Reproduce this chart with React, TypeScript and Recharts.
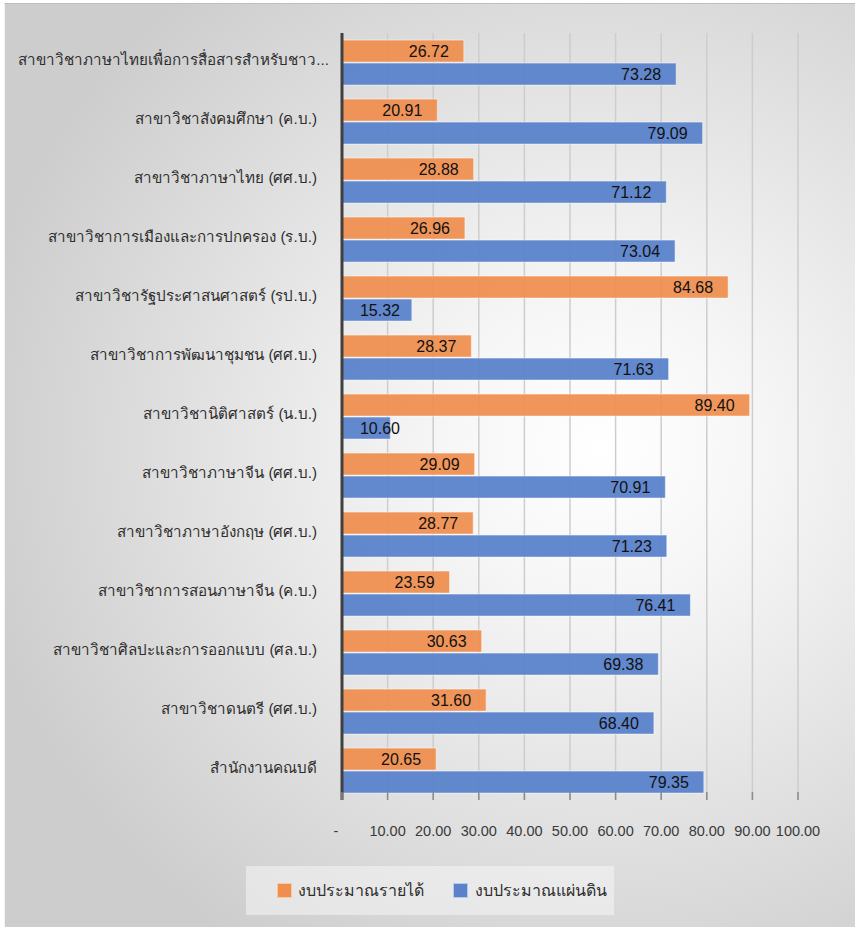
import React from "react";
import { BarChart, Bar, XAxis, YAxis, CartesianGrid, Legend, LabelList } from "recharts";

const categories = [
  "สาขาวิชาภาษาไทยเพื่อการสื่อสารสำหรับชาว...",
  "สาขาวิชาสังคมศึกษา (ค.บ.)",
  "สาขาวิชาภาษาไทย (ศศ.บ.)",
  "สาขาวิชาการเมืองและการปกครอง (ร.บ.)",
  "สาขาวิชารัฐประศาสนศาสตร์ (รป.บ.)",
  "สาขาวิชาการพัฒนาชุมชน (ศศ.บ.)",
  "สาขาวิชานิติศาสตร์ (น.บ.)",
  "สาขาวิชาภาษาจีน (ศศ.บ.)",
  "สาขาวิชาภาษาอังกฤษ (ศศ.บ.)",
  "สาขาวิชาการสอนภาษาจีน (ค.บ.)",
  "สาขาวิชาศิลปะและการออกแบบ (ศล.บ.)",
  "สาขาวิชาดนตรี (ศศ.บ.)",
  "สำนักงานคณบดี",
];
const incomeBudget = [26.72, 20.91, 28.88, 26.96, 84.68, 28.37, 89.4, 29.09, 28.77, 23.59, 30.63, 31.6, 20.65];
const stateBudget = [73.28, 79.09, 71.12, 73.04, 15.32, 71.63, 10.6, 70.91, 71.23, 76.41, 69.38, 68.4, 79.35];
const xTicks = [0, 10, 20, 30, 40, 50, 60, 70, 80, 90, 100];
const seriesNames = ["งบประมาณรายได้", "งบประมาณแผ่นดิน"];

const ORANGE = "#EF8E4D";
const BLUE = "#5A82CA";
const FONT = "'Liberation Sans', Arial, sans-serif";

const data = categories.map((c, i) => ({ name: c, income: incomeBudget[i], state: stateBudget[i] }));

const BarLabel = (props: any) => {
  const { x, y, width, height, value } = props;
  const right = Math.max(x + width - 15, x + 58);
  return (
    <text x={right} y={y + height / 2} dy="0.36em" textAnchor="end" fontSize={16} fill="#111" fontFamily={FONT}>
      {Number(value).toFixed(2)}
    </text>
  );
};

const XTick = (props: any) => {
  const { x, y, payload } = props;
  const v = payload.value;
  return (
    <g>
      <line x1={x} x2={x} y1={y - 8} y2={y} stroke="#8a8a8a" strokeWidth={1.5} />
      <text x={v === 0 ? x - 6 : x} y={y + 31} dy="0.36em" textAnchor="middle" fontSize={14.5} fill="#3a3a3a" fontFamily={FONT}>
        {v === 0 ? "-" : v.toFixed(2)}
      </text>
    </g>
  );
};

const YTick = (props: any) => {
  const { x, y, payload, index } = props;
  const truncated = String(payload.value).endsWith("...");
  return (
    <text x={truncated ? x + 12 : x} y={y - 3} dy="0.36em" textAnchor="end" fontSize={15.2} fill="#2e2e2e" fontFamily={FONT}>
      {payload.value}
    </text>
  );
};

const LegendContent = () => (
  <div
    style={{
      width: 368,
      height: 49,
      background: "rgba(245,245,245,0.55)",
      display: "flex",
      alignItems: "center",
      fontFamily: FONT,
      fontSize: 16,
      color: "#2e2e2e",
      boxSizing: "border-box",
      paddingLeft: 31,
    }}
  >
    <span style={{ display: "inline-block", width: 13, height: 13, background: ORANGE, border: "1px solid #f7c9a8", marginRight: 6 }} />
    <span style={{ marginRight: 29 }}>{seriesNames[0]}</span>
    <span style={{ display: "inline-block", width: 13, height: 13, background: BLUE, border: "1px solid #b9c9e8", marginRight: 7 }} />
    <span>{seriesNames[1]}</span>
  </div>
);

export default function App() {
  return (
    <div style={{ position: "absolute", left: 0, top: 0, width: 855, height: 927, background: "#ffffff", overflow: "hidden" }}>
      <div
        style={{
          position: "absolute",
          left: 4,
          top: 3,
          width: 851,
          height: 924,
          borderTop: "1px solid #bdbdbd",
          borderLeft: "1px solid #f4f4f4",
          background: "radial-gradient(ellipse 75% 65% at 70% 48%, #ffffff 0%, #f6f6f6 25%, #e3e3e3 60%, #cdcdcd 100%)",
        }}
      />
      <div style={{ position: "absolute", left: 0, top: 0 }}>
        <BarChart
          width={855}
          height={927}
          data={data}
          layout="vertical"
          margin={{ top: 33, right: 57, bottom: 87, left: 0 }}
          barCategoryGap="12%"
          barGap={1}
        >
          <CartesianGrid horizontal={false} vertical={true} stroke="#cdcdcd" strokeWidth={1.5} />
          <XAxis
            type="number"
            domain={[0, 100]}
            ticks={xTicks}
            interval={0}
            axisLine={false}
            tickLine={false}
            tickSize={0}
            tickMargin={0}
            height={40}
            tick={<XTick />}
          />
          <YAxis
            type="category"
            dataKey="name"
            width={342}
            axisLine={{ stroke: "#404040", strokeWidth: 3 }}
            tickLine={false}
            tickSize={0}
            tickMargin={25}
            interval={0}
            tick={<YTick />}
          />
          <Legend
            verticalAlign="middle"
            align="center"
            layout="horizontal"
            content={<LegendContent />}
            wrapperStyle={{ position: "absolute", left: 246, top: 866, width: 368, height: 49 }}
          />
          <Bar dataKey="income" name={seriesNames[0]} fill={ORANGE} fillOpacity={0.93} stroke="#ffffff" strokeOpacity={0.5} strokeWidth={1} isAnimationActive={false}>
            <LabelList dataKey="income" content={<BarLabel />} />
          </Bar>
          <Bar dataKey="state" name={seriesNames[1]} fill={BLUE} fillOpacity={0.95} stroke="#ffffff" strokeOpacity={0.5} strokeWidth={1} isAnimationActive={false}>
            <LabelList dataKey="state" content={<BarLabel />} />
          </Bar>
        </BarChart>
      </div>
    </div>
  );
}
